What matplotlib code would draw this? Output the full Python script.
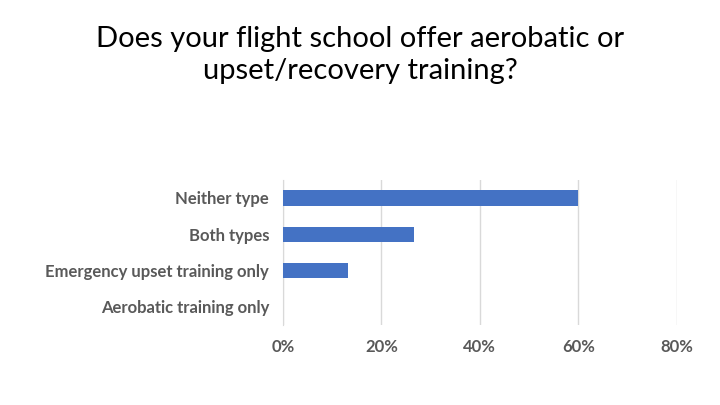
import matplotlib
matplotlib.use("Agg")
import matplotlib.pyplot as plt
from matplotlib.ticker import PercentFormatter

plt.rcParams['font.family'] = ['Lato', 'DejaVu Sans']

categories = ["Aerobatic training only", "Emergency upset training only", "Both types", "Neither type"]
values = [0.0, 13.3, 26.7, 60.0]
xticks = [0, 20, 40, 60, 80]

fig = plt.figure(figsize=(7.2, 4.05), dpi=100)
ax = fig.add_axes([0.393, 0.198, 0.547, 0.358])

ax.barh(categories, values, height=0.42, color="#4472C4", zorder=3)
ax.set_xlim(0, 80)
ax.set_ylim(-0.5, 3.5)
ax.set_xticks(xticks)
ax.xaxis.set_major_formatter(PercentFormatter(decimals=0))
ax.grid(axis="x", color="#D9D9D9", linewidth=1, zorder=0)
for s in ax.spines.values():
    s.set_visible(False)
ax.spines["left"].set_visible(True)
ax.spines["left"].set_color("#D9D9D9")
ax.tick_params(length=0, labelsize=12, labelcolor="#595959", pad=10)
for lab in ax.get_xticklabels() + ax.get_yticklabels():
    lab.set_fontweight("bold")

fig.text(0.5, 0.865, "Does your flight school offer aerobatic or\nupset/recovery training?",
         ha="center", va="center", fontsize=21, color="black", linespacing=1.3)

fig.savefig("out.png", dpi=100)
